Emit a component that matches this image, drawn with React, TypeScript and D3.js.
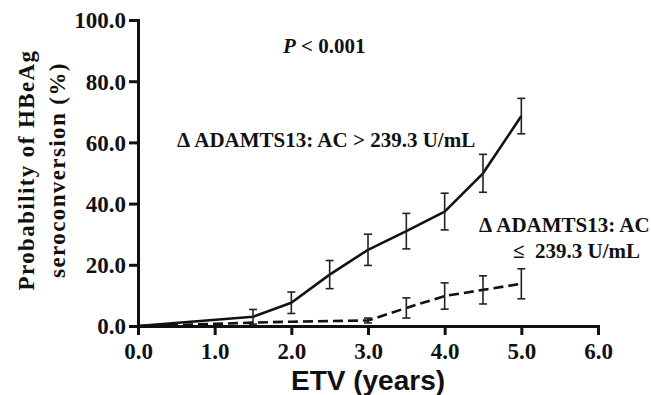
import React, { useEffect, useRef } from 'react';
import * as d3 from 'd3';

// years on ETV
const highYears = [0, 1.5, 2.0, 2.5, 3.0, 3.5, 4.0, 4.5, 5.0];
const highProb = [0, 3.0, 7.6, 16.8, 24.9, 31.0, 37.4, 49.9, 68.6];
const highErr = [0, 2.4, 3.5, 4.6, 5.1, 5.8, 6.0, 6.2, 5.8];

const lowYears = [0, 1.0, 1.5, 2.0, 2.5, 3.0, 3.5, 4.0, 4.5, 5.0];
const lowProb = [0, 0.7, 1.1, 1.4, 1.6, 1.8, 5.9, 9.8, 11.8, 13.8];
const lowErr = [0, 0, 0, 0, 0, 0.8, 3.3, 4.3, 4.6, 4.9];

const xTicks = [0, 1, 2, 3, 4, 5, 6];
const yTicks = [0, 20, 40, 60, 80, 100];

const serif = '"Liberation Serif", "Times New Roman", serif';
const sans = '"Liberation Sans", Arial, sans-serif';

const App = () => {
  const svgRef = useRef<SVGSVGElement>(null);

  useEffect(() => {
    const svg = d3.select(svgRef.current);
    svg.selectAll('*').remove();

    const x = d3.scaleLinear().domain([0, 6]).range([138, 598]);
    const y = d3.scaleLinear().domain([0, 100]).range([326, 20]);

    // axes
    const xAxis = svg
      .append('g')
      .attr('transform', `translate(0,${y(0)})`)
      .call(d3.axisBottom(x).tickValues(xTicks).tickFormat(d3.format('.1f')).tickSizeOuter(0).tickSize(9));
    const yAxis = svg
      .append('g')
      .attr('transform', `translate(${x(0)},0)`)
      .call(d3.axisLeft(y).tickValues(yTicks).tickFormat(d3.format('.1f')).tickSizeOuter(0).tickSize(9));

    [xAxis, yAxis].forEach((g) => {
      g.attr('font-family', serif).attr('font-size', 23);
      g.select('.domain').attr('stroke', '#111').attr('stroke-width', 3);
      g.selectAll('.tick line').attr('stroke', '#111').attr('stroke-width', 3);
      g.selectAll('.tick text').attr('fill', '#111').attr('font-weight', 'bold');
    });
    xAxis.selectAll('.tick text').attr('dy', null).attr('y', 33);
    yAxis.selectAll('.tick text').attr('x', -12).attr('dy', '0.34em');

    const line = d3
      .line<[number, number]>()
      .x((d) => x(d[0]))
      .y((d) => y(d[1]));

    const drawSeries = (years: number[], prob: number[], err: number[], dashed: boolean) => {
      const pts = years.map((t, i) => [t, prob[i]] as [number, number]);
      svg
        .append('path')
        .datum(pts)
        .attr('d', line)
        .attr('fill', 'none')
        .attr('stroke', '#111')
        .attr('stroke-width', 2.6)
        .attr('stroke-linejoin', 'round')
        .attr('stroke-dasharray', dashed ? '10,5' : null);

      const eb = svg.append('g').attr('stroke', '#222').attr('stroke-width', 1.6);
      years.forEach((t, i) => {
        if (!err[i]) return;
        const cx = x(t);
        const top = y(prob[i] + err[i]);
        const bot = y(Math.max(0, prob[i] - err[i]));
        eb.append('line').attr('x1', cx).attr('x2', cx).attr('y1', top).attr('y2', bot);
        eb.append('line').attr('x1', cx - 4).attr('x2', cx + 4).attr('y1', top).attr('y2', top);
        eb.append('line').attr('x1', cx - 4).attr('x2', cx + 4).attr('y1', bot).attr('y2', bot);
      });
    };

    drawSeries(lowYears, lowProb, lowErr, true);
    drawSeries(highYears, highProb, highErr, false);

    // x title
    svg
      .append('text')
      .attr('x', 368)
      .attr('y', 390)
      .attr('text-anchor', 'middle')
      .attr('font-family', sans)
      .attr('font-weight', 'bold')
      .attr('font-size', 28)
      .attr('fill', '#111')
      .text('ETV (years)');

    // y title
    const yt = svg
      .append('text')
      .attr('transform', 'translate(0,170) rotate(-90)')
      .attr('text-anchor', 'middle')
      .attr('font-family', serif)
      .attr('font-weight', 'bold')
      .attr('font-size', 23)
      .attr('letter-spacing', 1.4)
      .attr('fill', '#111');
    yt.append('tspan').attr('x', 0).attr('y', 34).text('Probability of HBeAg');
    yt.append('tspan').attr('x', 0).attr('y', 65).text('seroconversion (%)');

    const label = (tx: number, ty: number) =>
      svg
        .append('text')
        .attr('x', tx)
        .attr('y', ty)
        .attr('font-family', serif)
        .attr('font-weight', 'bold')
        .attr('font-size', 21)
        .attr('fill', '#111');

    const p = label(283, 53);
    p.append('tspan').attr('font-style', 'italic').text('P');
    p.append('tspan').text(' < 0.001');

    label(177, 147).text('Δ ADAMTS13: AC > 239.3 U/mL');
    label(479, 232).text('Δ ADAMTS13: AC');
    label(513, 258).style('white-space', 'pre').text('≤  239.3 U/mL');
  }, []);

  return (
    <svg
      ref={svgRef}
      width={651}
      height={395}
      style={{ position: 'absolute', left: 0, top: 0, background: '#fff' }}
    />
  );
};

export default App;
